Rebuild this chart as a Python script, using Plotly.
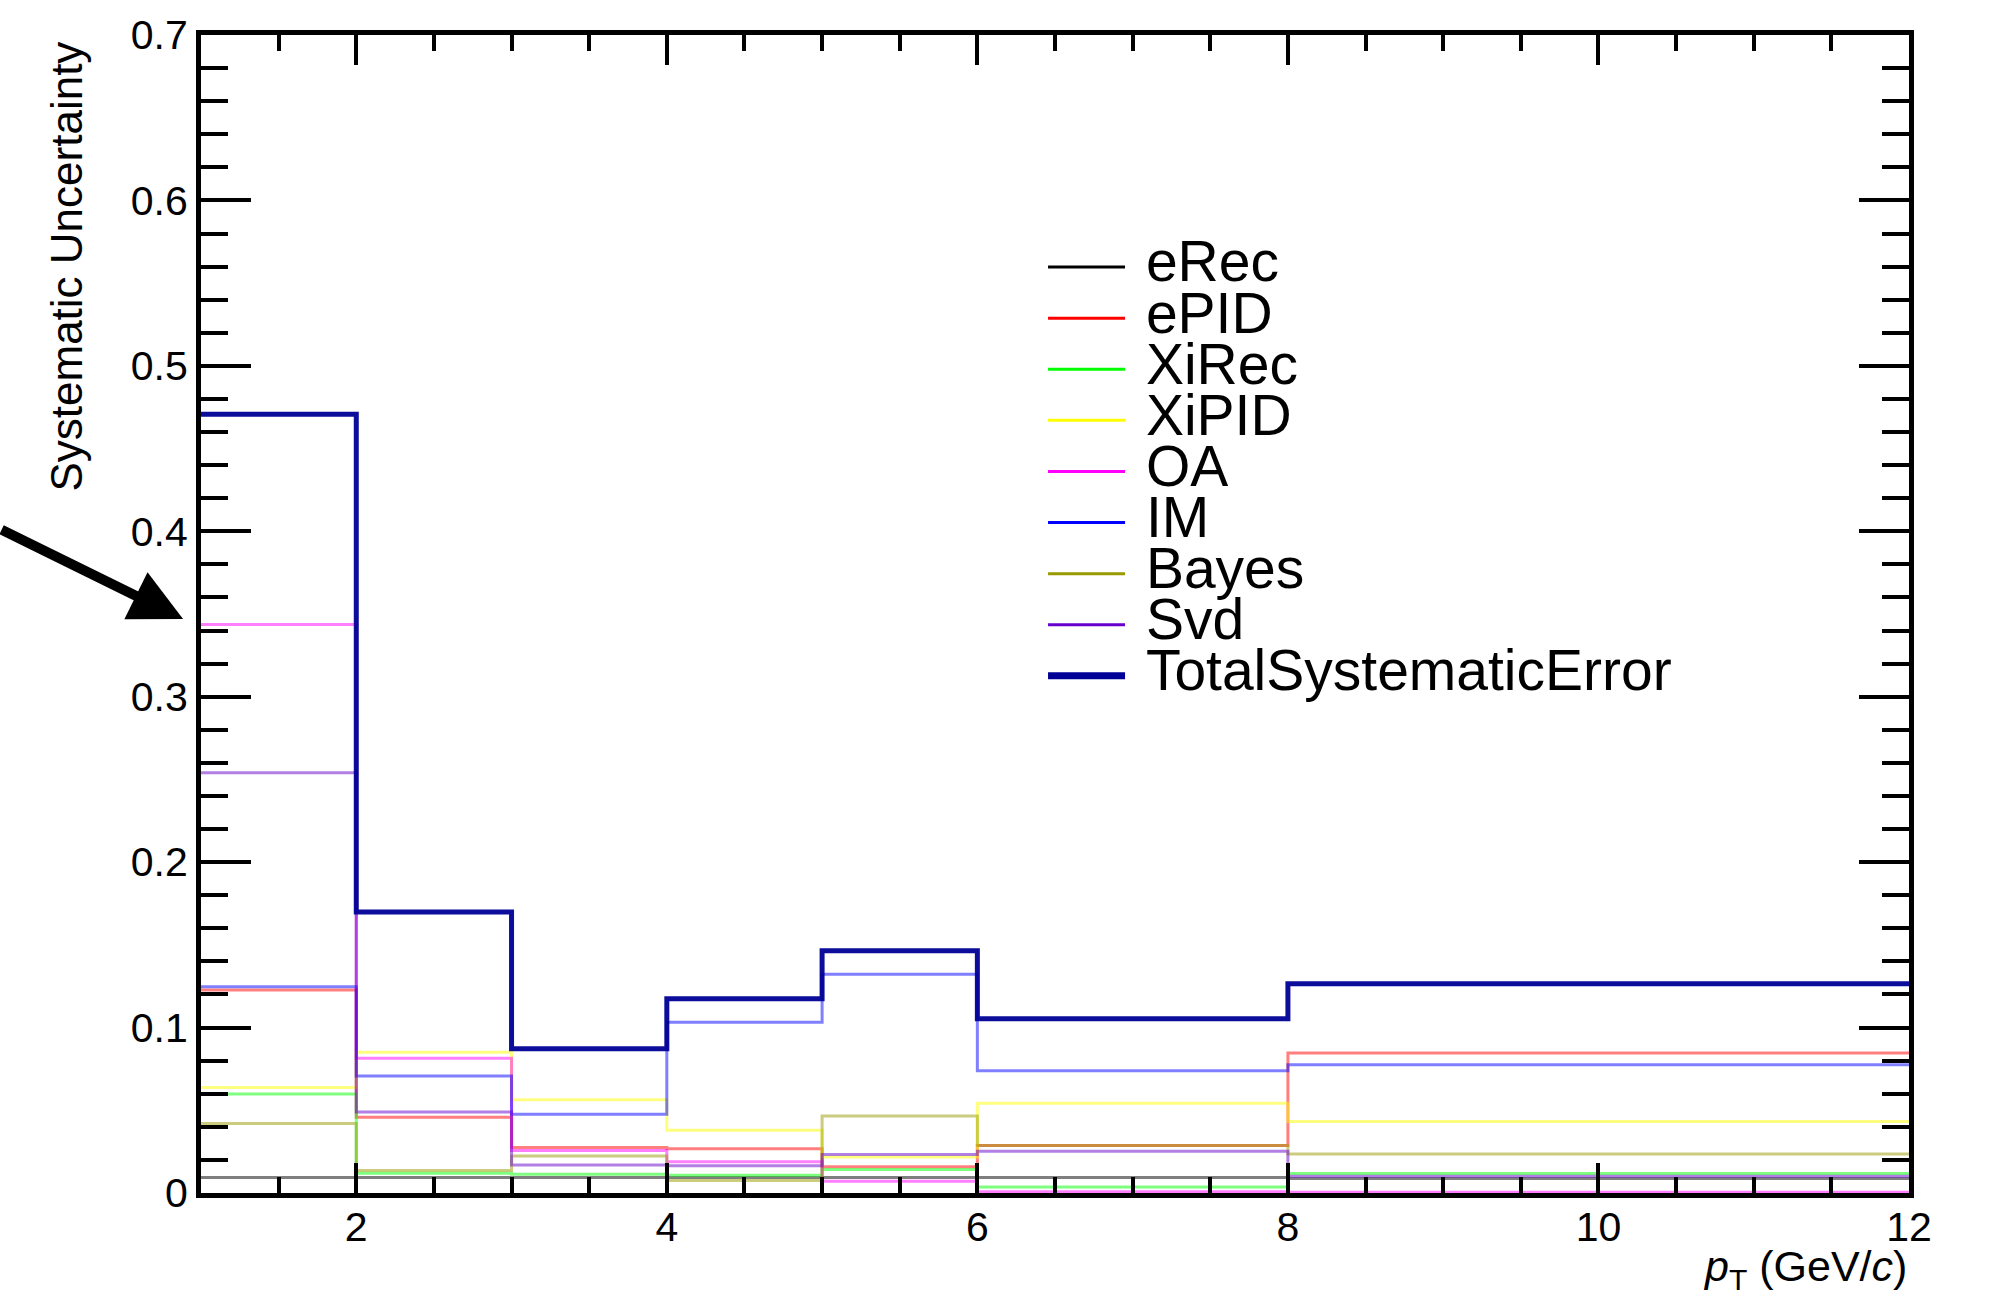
import plotly.graph_objects as go

# ---- data ----
bin_edges = [1, 2, 3, 4, 5, 6, 8, 12]
eRec  = [0.0094, 0.0094, 0.0094, 0.0094, 0.0094, 0.0094, 0.0088]
ePID  = [0.1227, 0.0458, 0.0275, 0.0268, 0.0158, 0.0287, 0.0847]
XiRec = [0.0598, 0.0120, 0.0114, 0.0107, 0.0142, 0.0036, 0.0118]
XiPID = [0.0637, 0.0851, 0.0564, 0.0379, 0.0217, 0.0543, 0.0432]
OA    = [0.3436, 0.0815, 0.0257, 0.0189, 0.0071, 0.0007, 0.0005]
IM    = [0.1247, 0.0707, 0.0476, 0.1032, 0.1322, 0.0739, 0.0776]
Bayes = [0.0420, 0.0136, 0.0223, 0.0076, 0.0466, 0.0287, 0.0235]
Svd   = [0.2540, 0.0490, 0.0169, 0.0165, 0.0233, 0.0253, 0.0102]
Total = [0.4707, 0.1699, 0.0872, 0.1174, 0.1464, 0.1053, 0.1265]

series_names = ["eRec", "ePID", "XiRec", "XiPID", "OA", "IM", "Bayes", "Svd",
                "TotalSystematicError"]
series_values = [eRec, ePID, XiRec, XiPID, OA, IM, Bayes, Svd, Total]
series_rgb = [(0, 0, 0), (255, 0, 0), (0, 255, 0), (255, 255, 0), (255, 0, 255),
              (0, 0, 255), (153, 153, 0), (102, 0, 204), (0, 0, 150)]

FONT = "Liberation Sans, Arial, Helvetica, sans-serif"

fig = go.Figure()

# drawn histograms (semi-transparent like the reference)
for name, vals, rgb in zip(series_names, series_values, series_rgb):
    total = name == "TotalSystematicError"
    alpha = 0.95 if total else 0.5
    fig.add_trace(go.Scatter(
        x=bin_edges, y=list(vals) + [vals[-1]],
        mode="lines", line_shape="hv",
        line=dict(color="rgba(%d,%d,%d,%.2f)" % (rgb + (alpha,)),
                  width=5 if total else 3),
        showlegend=False, hoverinfo="skip"))

# legend entries (full colour)
for name, rgb in zip(series_names, series_rgb):
    total = name == "TotalSystematicError"
    fig.add_trace(go.Scatter(
        x=[None], y=[None], mode="lines",
        name='<span style="font-size:57px">\u00a0%s</span>' % name,
        line=dict(color="rgb(%d,%d,%d)" % rgb, width=7 if total else 3)))

axis_common = dict(
    showline=True, linewidth=5, linecolor="black", mirror="ticks",
    ticks="inside", tickwidth=4, tickcolor="black",
    showgrid=False, zeroline=False,
    tickfont=dict(family=FONT, size=41, color="black"),
)

fig.update_xaxes(range=[1, 12], tick0=0, dtick=2, ticklen=30,
                 ticklabelstandoff=-6,
                 minor=dict(dtick=0.5, tick0=0, ticklen=16, tickwidth=4,
                            ticks="inside", tickcolor="black", showgrid=False),
                 **axis_common)
fig.update_yaxes(range=[0, 0.7], tick0=0, dtick=0.1, ticklen=50,
                 minor=dict(dtick=0.02, tick0=0, ticklen=27, tickwidth=4,
                            ticks="inside", tickcolor="black", showgrid=False),
                 **axis_common)

fig.update_layout(
    width=1997, height=1299,
    margin=dict(l=201, r=88, t=31, b=106, pad=0),
    paper_bgcolor="white", plot_bgcolor="white",
    font=dict(family=FONT, color="black"),
    legend=dict(x=0.493, y=0.826, xanchor="left", yanchor="top",
                bgcolor="rgba(0,0,0,0)", borderwidth=0,
                font=dict(family=FONT, size=37, color="black"),
                itemwidth=77, tracegroupgap=0),
    annotations=[
        dict(text="Systematic Uncertainty", textangle=-90,
             xref="paper", yref="paper", x=-0.0785, y=0.996,
             xanchor="center", yanchor="top", showarrow=False,
             font=dict(family=FONT, size=44, color="black")),
        dict(text="<i>p</i><sub>T</sub> (GeV/<i>c</i>)",
             xref="paper", yref="paper", x=1.0, y=-0.066,
             xanchor="right", yanchor="middle", showarrow=False,
             font=dict(family=FONT, size=43, color="black")),
        dict(text="", xref="paper", yref="paper", x=-0.0105, y=0.4957,
             showarrow=True, ax=-183, ay=-90, arrowhead=2, arrowsize=1.05,
             arrowwidth=10, arrowcolor="black", standoff=0),
    ],
)

fig.write_html("out.html")
